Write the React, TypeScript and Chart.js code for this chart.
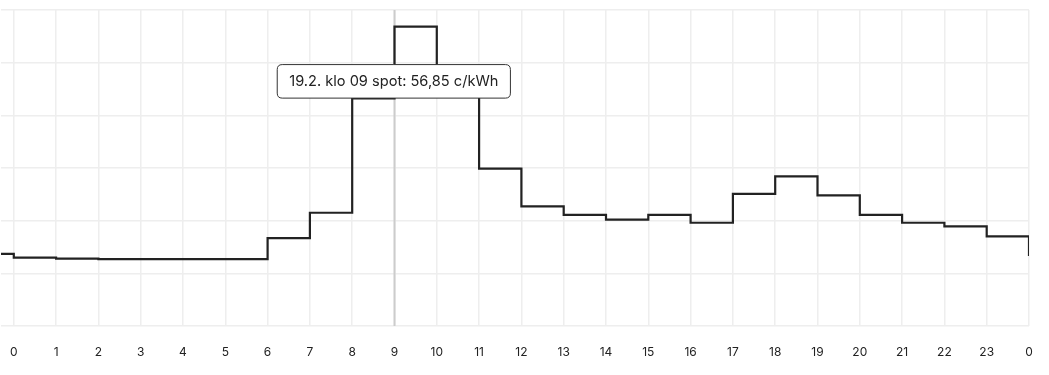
import React, { useEffect, useRef } from 'react';
import { Chart, registerables, Tooltip } from 'chart.js';

Chart.register(...registerables);

// Hour positions: -1 = last hour of previous day, 24 = first hour of next day
const hours = [-1, 0, 1, 2, 3, 4, 5, 6, 7, 8, 9, 10, 11, 12, 13, 14, 15, 16, 17, 18, 19, 20, 21, 22, 23, 24];
// Spot price, c/kWh
const prices = [13.7, 13.0, 12.8, 12.7, 12.7, 12.7, 12.7, 16.7, 21.5, 43.2, 56.85, 47.0, 29.9, 22.7, 21.1, 20.2, 21.1, 19.6, 25.1, 28.4, 24.8, 21.1, 19.6, 18.9, 17.0, 13.3];
// X tick positions and labels
const tickHours = [0, 1, 2, 3, 4, 5, 6, 7, 8, 9, 10, 11, 12, 13, 14, 15, 16, 17, 18, 19, 20, 21, 22, 23, 24];
const tickLabels = ['0', '1', '2', '3', '4', '5', '6', '7', '8', '9', '10', '11', '12', '13', '14', '15', '16', '17', '18', '19', '20', '21', '22', '23', '0'];
const dateLabel = '19.2.';
const activeHour = 9;
const xMin = -0.3;
const xMax = 24;
const yMin = 0;
const yMax = 60;
const yStep = 10;

(Tooltip.positioners as any).belowPoint = function (elements: any[]) {
  if (!elements.length) return false;
  const el = elements[0].element;
  return { x: el.x, y: el.y + 38 };
};

const hoverLinePlugin = {
  id: 'hoverLine',
  beforeDatasetsDraw(chart: any) {
    const { ctx, chartArea, scales } = chart;
    const x = scales.x.getPixelForValue(activeHour);
    ctx.save();
    ctx.strokeStyle = '#cccccc';
    ctx.lineWidth = 2;
    ctx.beginPath();
    ctx.moveTo(x, chartArea.top);
    ctx.lineTo(x, chartArea.bottom);
    ctx.stroke();
    ctx.restore();
  },
};

export default function App() {
  const canvasRef = useRef<HTMLCanvasElement | null>(null);

  useEffect(() => {
    if (!canvasRef.current) return;
    Chart.defaults.font.family = 'Inter, "Noto Sans", sans-serif';
    const chart = new Chart(canvasRef.current, {
      type: 'line',
      data: {
        datasets: [
          {
            label: 'spot',
            data: hours.map((h, i) => ({ x: h, y: prices[i] })),
            stepped: 'before',
            borderColor: '#222222',
            borderWidth: 2.2,
            pointRadius: 0,
            pointHoverRadius: 0,
            fill: false,
          },
        ],
      },
      options: {
        animation: false,
        responsive: false,
        events: [],
        layout: { padding: { top: 10, right: 20, bottom: 15, left: 0 } },
        plugins: {
          legend: { display: false },
          tooltip: {
            enabled: true,
            position: 'belowPoint' as any,
            xAlign: 'center',
            yAlign: 'top',
            caretSize: 0,
            caretPadding: 0,
            displayColors: false,
            backgroundColor: '#ffffff',
            borderColor: '#333333',
            borderWidth: 1,
            cornerRadius: 5,
            padding: { top: 8, bottom: 8, left: 12, right: 12 },
            bodyColor: '#222222',
            bodyFont: { size: 14.6 },
            callbacks: {
              title: () => '',
              label: (ctx: any) => {
                const h = ctx.raw.x;
                const v = ctx.raw.y;
                return `${dateLabel} klo ${String(h).padStart(2, '0')} spot: ${v.toFixed(2).replace('.', ',')} c/kWh`;
              },
            },
          },
        },
        scales: {
          x: {
            type: 'linear',
            min: xMin,
            max: xMax,
            afterBuildTicks: (scale: any) => {
              scale.ticks = tickHours.map((v) => ({ value: v }));
            },
            afterFit: (scale: any) => {
              scale.paddingLeft = 0;
              scale.paddingRight = 0;
              scale.height = 34;
            },
            ticks: {
              padding: 19,
              color: '#222222',
              font: { size: 12 },
              maxRotation: 0,
              autoSkip: false,
              callback: (value: any) => tickLabels[tickHours.indexOf(Number(value))] ?? '',
            },
            grid: { color: '#eeeeee', lineWidth: 1.5, drawTicks: false },
            border: { display: false },
          },
          y: {
            min: yMin,
            max: yMax,
            afterFit: (scale: any) => {
              scale.width = 0;
            },
            ticks: { display: false, stepSize: yStep },
            grid: { color: '#eeeeee', lineWidth: 1.5, drawTicks: false },
            border: { display: false },
          },
        },
      },
      plugins: [hoverLinePlugin],
    });

    const idx = hours.indexOf(activeHour);
    chart.setActiveElements([{ datasetIndex: 0, index: idx }]);
    chart.tooltip?.setActiveElements([{ datasetIndex: 0, index: idx }], { x: 0, y: 0 });
    chart.update();

    return () => chart.destroy();
  }, []);

  return (
    <div style={{ position: 'absolute', left: 0, top: 0, width: 1049, height: 375 }}>
      <canvas ref={canvasRef} width={1049} height={375} style={{ width: 1049, height: 375 }} />
    </div>
  );
}
